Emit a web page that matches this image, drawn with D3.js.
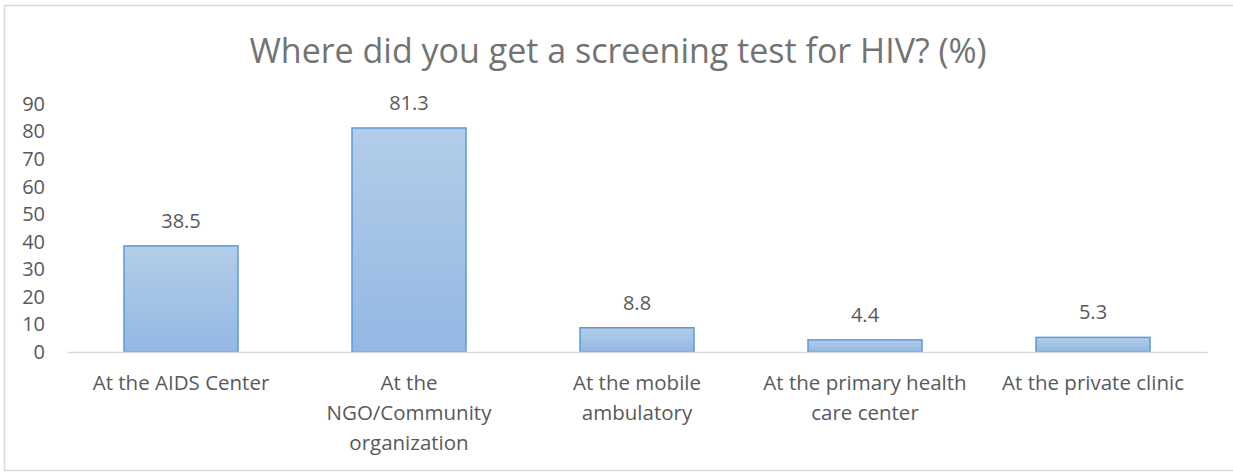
<!DOCTYPE html>
<html>
<head>
<meta charset="utf-8">
<script src="https://cdn.jsdelivr.net/npm/d3@7"></script>
<style>
  body { margin: 0; background: #fff; }
  text { font-family: "Open Sans", Lato, sans-serif; fill: #595959; }
</style>
</head>
<body>
<script>
// chart values
var categories = [
  "At the AIDS Center",
  "At the\nNGO/Community\norganization",
  "At the mobile\nambulatory",
  "At the primary health\ncare center",
  "At the private clinic"
];
var values = [38.5, 81.3, 8.8, 4.4, 5.3];
var yTicks = [0, 10, 20, 30, 40, 50, 60, 70, 80, 90];
var title = "Where did you get a screening test for HIV? (%)";

var width = 1233, height = 472;
var margin = {left: 67, right: 26, top: 104, bottom: 120};

var svg = d3.select("body").append("svg")
    .attr("width", width)
    .attr("height", height);

// outer chart frame
svg.append("rect")
    .attr("x", 4.5).attr("y", 5.5)
    .attr("width", width + 10).attr("height", 465)
    .attr("fill", "#fff")
    .attr("stroke", "#d9d9d9")
    .attr("stroke-width", 1.5);

var defs = svg.append("defs");
var grad = defs.append("linearGradient")
    .attr("id", "barFill")
    .attr("x1", 0).attr("y1", 0).attr("x2", 0).attr("y2", 1);
grad.append("stop").attr("offset", "0%").attr("stop-color", "#b3cde9");
grad.append("stop").attr("offset", "100%").attr("stop-color", "#93b8e3");

var x = d3.scaleBand()
    .domain(categories)
    .range([margin.left, width - margin.right])
    .paddingInner(0.5)
    .paddingOuter(0.25);

var y = d3.scaleLinear()
    .domain([0, 90])
    .range([height - margin.bottom, margin.top]);

svg.append("text")
    .attr("x", 618)
    .attr("y", 63)
    .attr("text-anchor", "middle")
    .style("font-size", "34px")
    .style("fill", "#737373")
    .text(title);

// y axis: labels only
var yAxis = svg.append("g")
    .attr("transform", "translate(" + (margin.left - 22) + ",0)")
    .call(d3.axisLeft(y).tickValues(yTicks).tickSize(0).tickPadding(0));
yAxis.select(".domain").remove();
yAxis.selectAll("text")
    .style("font-size", "20px")
    .style("font-family", null)
    .attr("fill", null);

var bars = svg.selectAll(".bar")
    .data(values)
    .enter()
    .append("rect")
    .attr("class", "bar")
    .attr("x", function (d, i) { return x(categories[i]); })
    .attr("y", function (d) { return y(d); })
    .attr("width", x.bandwidth())
    .attr("height", function (d) { return y(0) - y(d); })
    .attr("fill", "url(#barFill)")
    .attr("stroke", "#5b9bd5")
    .attr("stroke-width", 1.5);

// x axis line and wrapped category labels
var xAxis = svg.append("g")
    .attr("transform", "translate(0," + y(0) + ")")
    .call(d3.axisBottom(x).tickSize(0).tickFormat(""));
xAxis.select(".domain")
    .attr("stroke", "#d9d9d9")
    .attr("stroke-width", 1.5);

xAxis.selectAll(".tick").each(function (d) {
  var t = d3.select(this).append("text")
      .attr("text-anchor", "middle")
      .style("font-size", "20.5px")
      .attr("y", 38);
  d.split("\n").forEach(function (line, k) {
    t.append("tspan").attr("x", 0).attr("dy", k === 0 ? 0 : 30).text(line);
  });
});

svg.selectAll(".label")
    .data(values)
    .enter()
    .append("text")
    .attr("class", "label")
    .attr("text-anchor", "middle")
    .attr("x", function (d, i) { return x(categories[i]) + x.bandwidth() / 2; })
    .attr("y", function (d) { return y(d) - 18; })
    .style("font-size", "20px")
    .text(function (d) { return d.toFixed(1); });
</script>
</body>
</html>
